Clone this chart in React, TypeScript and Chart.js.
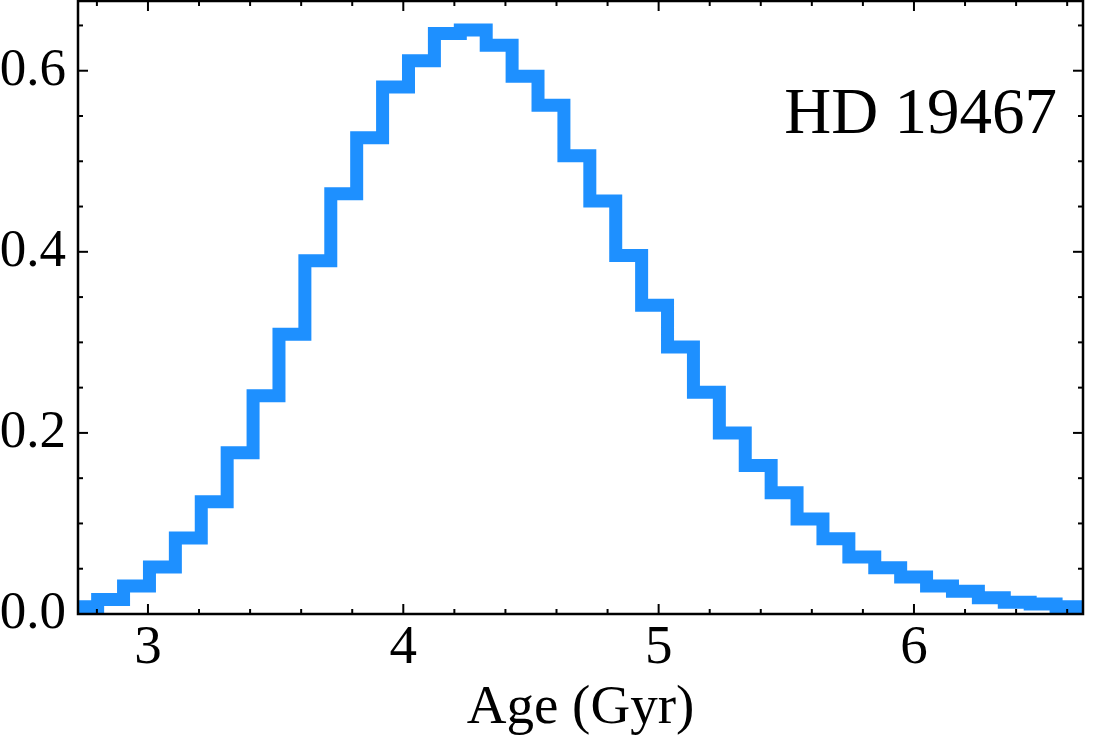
import React, { useEffect, useRef } from "react";
import { Chart, registerables } from "chart.js";

Chart.register(...registerables);

// Histogram bin edges (Gyr): first edge and bin width
const firstEdge = 2.7015;
const binWidth = 0.10145;
// Normalised counts per bin (39 bins)
const binValues = [
  0.008, 0.016, 0.031, 0.052, 0.084, 0.124, 0.178, 0.241, 0.309, 0.39,
  0.464, 0.526, 0.582, 0.611, 0.641, 0.645, 0.628, 0.594, 0.562, 0.506,
  0.456, 0.396, 0.341, 0.295, 0.245, 0.2, 0.164, 0.134, 0.105, 0.083,
  0.063, 0.051, 0.041, 0.031, 0.025, 0.018, 0.013, 0.011, 0.008,
];
const xMajorTicks = [3, 4, 5, 6];
const xMinorTicks = [2.8, 3.2, 3.4, 3.6, 3.8, 4.2, 4.4, 4.6, 4.8, 5.2, 5.4, 5.6, 5.8, 6.2, 6.4, 6.6];
const yMajorTicks = [0, 0.2, 0.4, 0.6];
const yMinorTicks = [0.05, 0.1, 0.15, 0.25, 0.3, 0.35, 0.45, 0.5, 0.55, 0.65];
const xLimits = [2.726, 6.662];
const yLimits = [0, 0.677];
const xTitle = "Age (Gyr)";
const annotation = "HD 19467";

const FONT = "'Liberation Serif', 'Times New Roman', serif";

function buildSteps() {
  const pts: { x: number; y: number }[] = [];
  pts.push({ x: firstEdge, y: 0 });
  binValues.forEach((v, i) => {
    pts.push({ x: firstEdge + binWidth * i, y: v });
  });
  const lastEdge = firstEdge + binWidth * binValues.length;
  pts.push({ x: lastEdge, y: binValues[binValues.length - 1] });
  pts.push({ x: lastEdge, y: 0 });
  return pts;
}

const framePlugin = {
  id: "frameTicks",
  afterDatasetsDraw(chart: any) {
    const { ctx, chartArea, scales } = chart;
    const { left, right, top, bottom } = chartArea;
    const xs = scales.x;
    const ys = scales.y;
    ctx.save();
    ctx.strokeStyle = "#000";
    ctx.lineWidth = 2;
    const tick = (x1: number, y1: number, x2: number, y2: number) => {
      ctx.beginPath();
      ctx.moveTo(x1, y1);
      ctx.lineTo(x2, y2);
      ctx.stroke();
    };
    const maj = 10;
    const min = 5;
    xMajorTicks.forEach((v) => {
      const p = xs.getPixelForValue(v);
      tick(p, bottom, p, bottom - maj);
      tick(p, top, p, top + maj);
    });
    xMinorTicks.forEach((v) => {
      const p = xs.getPixelForValue(v);
      if (p < left || p > right) return;
      tick(p, bottom, p, bottom - min);
      tick(p, top, p, top + min);
    });
    yMajorTicks.forEach((v) => {
      const p = ys.getPixelForValue(v);
      tick(left, p, left + maj, p);
      tick(right, p, right - maj, p);
    });
    yMinorTicks.forEach((v) => {
      const p = ys.getPixelForValue(v);
      if (p < top || p > bottom) return;
      tick(left, p, left + min, p);
      tick(right, p, right - min, p);
    });
    ctx.lineWidth = 2.5;
    ctx.strokeRect(left, top, right - left, bottom - top);

    ctx.fillStyle = "#000";
    ctx.font = `65px ${FONT}`;
    ctx.textAlign = "right";
    ctx.textBaseline = "alphabetic";
    ctx.fillText(annotation, right - 26, top + 132);
    ctx.restore();
  },
};

export default function App() {
  const ref = useRef<HTMLCanvasElement | null>(null);
  useEffect(() => {
    document.body.style.margin = "0";
    if (!ref.current) return;
    const chart = new Chart(ref.current, {
      type: "line",
      data: {
        datasets: [
          {
            data: buildSteps(),
            borderColor: "#1E90FF",
            borderWidth: 13,
            borderJoinStyle: "miter",
            borderCapStyle: "butt",
            stepped: "before",
            pointRadius: 0,
            fill: false,
            clip: 0,
          } as any,
        ],
      },
      options: {
        animation: false,
        responsive: false,
        maintainAspectRatio: false,
        layout: { padding: { left: 0, right: 31, top: 1, bottom: 0 } },
        plugins: { legend: { display: false }, tooltip: { enabled: false } },
        scales: {
          x: {
            type: "linear",
            min: xLimits[0],
            max: xLimits[1],
            grid: { display: false, drawTicks: false },
            border: { display: false },
            ticks: {
              stepSize: 1,
              includeBounds: false,
              padding: 2,
              color: "#000",
              font: { family: FONT, size: 55 },
              maxRotation: 0,
              autoSkip: false,
              callback: (v: any) => String(v),
            },
            title: {
              display: true,
              text: xTitle,
              color: "#000",
              font: { family: FONT, size: 55 },
              padding: { top: 0, bottom: 1 },
            },
            afterFit: (s: any) => {
              s.height = 129;
              s.paddingLeft = 0;
              s.paddingRight = 0;
            },
          },
          y: {
            type: "linear",
            min: yLimits[0],
            max: yLimits[1],
            grid: { display: false, drawTicks: false },
            border: { display: false },
            ticks: {
              stepSize: 0.2,
              includeBounds: false,
              padding: 12,
              color: "#000",
              font: { family: FONT, size: 53 },
              callback: (v: any) => Number(v).toFixed(1),
            },
            afterFit: (s: any) => {
              s.width = 78;
              s.paddingTop = 0;
              s.paddingBottom = 0;
            },
          },
        },
      },
      plugins: [framePlugin],
    });
    return () => chart.destroy();
  }, []);
  return (
    <div style={{ position: "absolute", left: 0, top: 0, width: 1114, height: 743, background: "#fff" }}>
      <canvas ref={ref} width={1114} height={743} style={{ display: "block" }} />
    </div>
  );
}
